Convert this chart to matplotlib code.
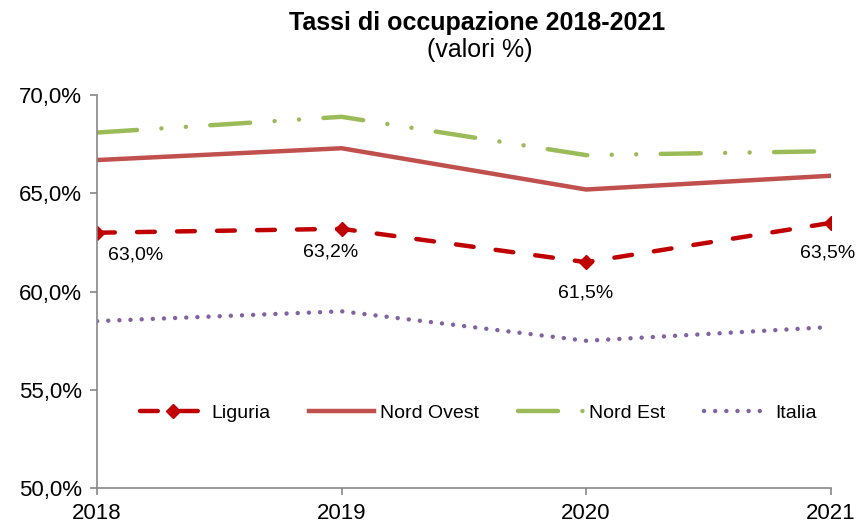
import matplotlib.pyplot as plt
from matplotlib.ticker import FuncFormatter

plt.rcParams['font.family'] = ['Liberation Sans', 'DejaVu Sans']

years = [2018, 2019, 2020, 2021]
liguria = [63.0, 63.2, 61.5, 63.5]
nord_ovest = [66.7, 67.3, 65.2, 65.9]
nord_est = [68.1, 68.9, 66.95, 67.15]
italia = [58.5, 59.0, 57.5, 58.2]

fig = plt.figure(figsize=(8.59, 5.26), dpi=100)
ax = fig.add_axes([0.113, 0.072, 0.854, 0.747])

ax.plot(years, liguria, color='#C00000', lw=3.2, dashes=(4, 5),
        dash_capstyle='round', marker='D', markersize=7, label='Liguria')
ax.plot(years, nord_ovest, color='#C0504D', lw=3.2, label='Nord Ovest')
ax.plot(years, nord_est, color='#9BBB59', lw=3.2,
        dashes=(9, 5.5, 0.01, 5.5, 0.01, 5.5), dash_capstyle='round', label='Nord Est')
ax.plot(years, italia, color='#8064A2', lw=3.2, dashes=(0.01, 2.5),
        dash_capstyle='round', label='Italia')

offsets = [(28, -16), (-8, -17), (0, -22), (-2, -22)]
for x, y, off in zip(years, liguria, offsets):
    ax.annotate(f"{y:.1f}%".replace('.', ','), (x, y), xytext=off,
                textcoords='offset points', ha='center', va='center', fontsize=14)

ax.set_xlim(2018, 2021)
ax.set_ylim(50, 70)
ax.set_xticks(years)
ax.set_yticks([50, 55, 60, 65, 70])
ax.yaxis.set_major_formatter(FuncFormatter(lambda v, p: f"{v:.1f}%".replace('.', ',')))
ax.tick_params(labelsize=16, color='#878787', length=5, width=1.2, pad=6)
for s in ['top', 'right']:
    ax.spines[s].set_visible(False)
for s in ['left', 'bottom']:
    ax.spines[s].set_color('#878787')
    ax.spines[s].set_linewidth(1.2)

ax.legend(loc='center', bbox_to_anchor=(0.52, 0.19), ncol=4, frameon=False,
          fontsize=14, handlelength=3.35, columnspacing=2.0, handletextpad=0.3)

fig.text(0.556, 0.956, 'Tassi di occupazione 2018-2021', ha='center', va='center',
         fontsize=18, fontweight='bold')
fig.text(0.558, 0.905, '(valori %)', ha='center', va='center', fontsize=18)

fig.savefig('out.png', dpi=100)
